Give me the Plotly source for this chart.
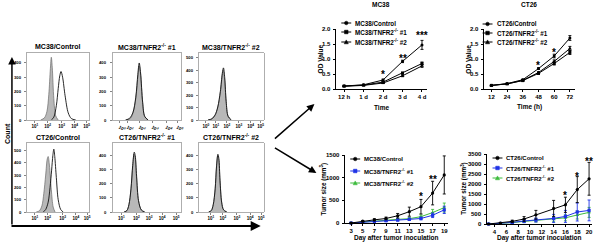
import plotly.graph_objects as go

W, H = 600, 246
FONT = "Liberation Sans"
BLUE = "#1f33e6"
GREEN = "#3dbb3d"
GREY_FILL = "#b8b8b8"

# ---------------- data ----------------
hist_titles = ["MC38/Control", "MC38/TNFR2<sup>-/-</sup> #1", "MC38/TNFR2<sup>-/-</sup> #2",
               "CT26/Control", "CT26/TNFR2<sup>-/-</sup> #1", "CT26/TNFR2<sup>-/-</sup> #2"]
# tick positions in display channel units (0-1000) and their decade exponents
hist_tick_pos = [[127, 333, 556, 762, 952], [101, 217, 391, 580, 783, 942], [108, 262, 431, 615, 800, 954],
                 [127, 333, 570, 780, 960], [130, 348, 536, 725, 928], [185, 369, 585, 790, 960]]
hist_tick_exp = [[1, 2, 3, 4, 5], [0, 1, 2, 3, 4, 5], [0, 1, 2, 3, 4, 5],
                 [1, 2, 3, 4, 5], [1, 2, 3, 4, 5], [1, 2, 3, 4, 5]]
hist_y_ticks = [[0, 100, 200, 300, 400], [0, 100, 200, 300, 400], [0, 100, 200, 300, 400, 500],
                [0, 100, 200, 300, 400, 500], [0, 100, 200, 300, 400], [0, 100, 200, 300, 400]]
hist_y_max = [470, 470, 540, 560, 490, 490]

# isotype (grey filled) and stained (black outline) histograms
iso_x = [
    [220, 280, 320, 350, 375, 390, 405, 430, 460, 500],
    [200, 260, 300, 340, 370, 392, 410, 440, 470, 520],
    [140, 200, 250, 290, 330, 360, 375, 395, 420, 450, 500],
    [150, 200, 240, 270, 300, 325, 340, 360, 390, 420, 450],
    [170, 210, 240, 270, 295, 315, 330, 350, 380, 420, 470],
    [150, 190, 220, 250, 270, 290, 305, 325, 350, 380, 430],
]
iso_y = [
    [0, 15, 60, 180, 360, 440, 370, 150, 30, 0],
    [0, 10, 50, 150, 300, 380, 320, 120, 25, 0],
    [0, 10, 40, 100, 220, 360, 400, 330, 150, 30, 0],
    [0, 10, 50, 150, 300, 430, 450, 380, 180, 40, 0],
    [0, 10, 50, 160, 320, 410, 390, 250, 80, 15, 0],
    [0, 10, 50, 160, 310, 400, 370, 220, 70, 15, 0],
]
samp_x = [
    [390, 430, 470, 500, 525, 545, 570, 610, 660, 710, 780],
    [190, 250, 300, 340, 370, 390, 410, 440, 470, 520],
    [140, 200, 250, 290, 330, 360, 378, 398, 420, 450, 500],
    [260, 300, 340, 370, 395, 415, 430, 445, 470, 500, 540, 580],
    [170, 210, 240, 270, 295, 318, 332, 352, 380, 420, 470],
    [150, 190, 220, 250, 270, 292, 307, 325, 350, 380, 430],
]
samp_y = [
    [0, 20, 100, 220, 310, 340, 300, 170, 50, 10, 0],
    [0, 12, 55, 160, 320, 400, 330, 125, 25, 0],
    [0, 10, 42, 105, 230, 375, 420, 340, 150, 30, 0],
    [0, 20, 80, 200, 340, 460, 510, 450, 280, 100, 20, 0],
    [0, 10, 52, 165, 330, 425, 400, 255, 80, 15, 0],
    [0, 10, 52, 165, 320, 410, 380, 225, 70, 15, 0],
]

# OD growth curves
od_mc38_x = ["12 h", "1 d", "2 d", "3 d", "4 d"]
od_mc38_ctrl = [0.10, 0.14, 0.30, 0.92, 1.47]
od_mc38_ctrl_err = [0.01, 0.01, 0.03, 0.04, 0.15]
od_mc38_ko1 = [0.10, 0.13, 0.23, 0.53, 0.85]
od_mc38_ko1_err = [0.01, 0.01, 0.02, 0.03, 0.05]
od_mc38_ko2 = [0.09, 0.12, 0.20, 0.44, 0.77]
od_mc38_ko2_err = [0.01, 0.01, 0.02, 0.03, 0.05]
od_mc38_star_x = ["2 d", "3 d", "4 d"]
od_mc38_star_y = [0.57, 1.13, 1.87]
od_mc38_star_t = ["*", "**", "***"]

od_ct26_x = [12, 24, 36, 48, 60, 72]
od_ct26_ctrl = [0.12, 0.18, 0.31, 0.68, 1.10, 1.70]
od_ct26_ctrl_err = [0.01, 0.01, 0.02, 0.03, 0.06, 0.08]
od_ct26_ko1 = [0.12, 0.17, 0.28, 0.52, 0.85, 1.22]
od_ct26_ko1_err = [0.01, 0.01, 0.02, 0.03, 0.05, 0.07]
od_ct26_ko2 = [0.12, 0.17, 0.29, 0.55, 0.92, 1.35]
od_ct26_ko2_err = [0.01, 0.01, 0.02, 0.03, 0.05, 0.07]
od_ct26_star_x = [48, 60, 72]
od_ct26_star_y = [0.90, 1.33, 2.03]
od_ct26_star_t = ["*", "*", "**"]
od_y_ticks = [0, 0.5, 1.0, 1.5, 2.0]
od_y_labels = ["0.0", "0.5", "1.0", "1.5", "2.0"]

# tumor growth
tum_mc38_days = [3, 5, 7, 9, 11, 13, 15, 17, 19]
tum_mc38_ctrl = [0, 40, 70, 100, 160, 250, 360, 660, 1060]
tum_mc38_ctrl_err = [5, 15, 25, 30, 50, 100, 160, 260, 420]
tum_mc38_ko1 = [0, 20, 35, 50, 65, 80, 100, 170, 290]
tum_mc38_ko1_err = [3, 8, 10, 15, 20, 25, 30, 50, 80]
tum_mc38_ko2 = [0, 25, 45, 60, 80, 95, 140, 230, 340]
tum_mc38_ko2_err = [3, 10, 12, 15, 25, 30, 40, 70, 100]
tum_mc38_star_x = [15, 17, 19]
tum_mc38_star_y = [640, 1015, 1630]
tum_mc38_star_t = ["*", "**", "***"]
tum_mc38_y_ticks = [0, 500, 1000, 1500]

tum_ct26_days = [3, 5, 7, 9, 11, 14, 16, 18, 20]
tum_ct26_ctrl = [0, 50, 130, 250, 460, 780, 960, 1720, 2260]
tum_ct26_ctrl_err = [5, 20, 60, 120, 220, 400, 380, 650, 820]
tum_ct26_ko1 = [0, 30, 80, 150, 200, 280, 380, 600, 680]
tum_ct26_ko1_err = [5, 15, 40, 80, 100, 200, 300, 450, 520]
tum_ct26_ko2 = [0, 30, 70, 130, 180, 230, 310, 450, 580]
tum_ct26_ko2_err = [5, 15, 30, 60, 80, 120, 150, 200, 250]
tum_ct26_star_x = [16, 18, 20]
tum_ct26_star_y = [1600, 2550, 3300]
tum_ct26_star_t = ["*", "*", "**"]
tum_ct26_x_ticks = [4, 6, 8, 10, 12, 14, 16, 18, 20]
tum_ct26_y_ticks = [0, 500, 1000, 1500, 2000, 2500, 3000, 3500]

mc38_labels = ["MC38/Control", "MC38/TNFR2<sup>-/-</sup> #1", "MC38/TNFR2<sup>-/-</sup> #2"]
ct26_labels = ["CT26/Control", "CT26/TNFR2<sup>-/-</sup> #1", "CT26/TNFR2<sup>-/-</sup> #2"]


# ---------------- helpers ----------------
def PX(p):
    return p / W


def PY(p):
    return 1 - p / H


fig = go.Figure()
annotations = []
shapes = []


def font(size, color="black"):
    return dict(family=FONT, size=size, color=color, weight="bold")


def axis_names(n):
    s = "" if n == 1 else str(n)
    return "xaxis" + s, "yaxis" + s, "x" + s, "y" + s


def set_axes(n, xpx, ypx, xkw, ykw):
    xa, ya, xr, yr = axis_names(n)
    fig.update_layout({
        xa: dict(domain=[PX(xpx[0]), PX(xpx[1])], anchor=yr, ticklabeloverflow="allow",
                 showticklabels=True, **xkw),
        ya: dict(domain=[PY(ypx[1]), PY(ypx[0])], anchor=xr, showticklabels=False, **ykw),
    })
    return xr, yr


def ytick_labels(vals, labels, axis_px, yr, size, gap):
    # y tick labels written next to the axis, positioned through the y axis scale
    for v, lab in zip(vals, labels):
        annotations.append(dict(text=lab, x=PX(axis_px - gap), y=v, xref="paper", yref=yr,
                                xanchor="right", yanchor="middle", showarrow=False, font=font(size)))


def text(t, x, y, size, angle=0, xanchor="center", color="black"):
    annotations.append(dict(text=t, x=PX(x), y=PY(y), xref="paper", yref="paper", showarrow=False,
                            font=font(size, color), textangle=angle, xanchor=xanchor, yanchor="middle"))


def arrow(tipx, tipy, tailx, taily, width=1.5):
    annotations.append(dict(text="", x=PX(tipx), y=PY(tipy), xref="paper", yref="paper",
                            ax=tailx - tipx, ay=taily - tipy, showarrow=True, arrowhead=2,
                            arrowsize=1, arrowwidth=width, arrowcolor="black"))


def legend_key(sym, cx, cy, color, r=1.8):
    shapes.append(dict(type="line", xref="paper", yref="paper", x0=PX(cx - 5), x1=PX(cx + 5),
                       y0=PY(cy), y1=PY(cy), line=dict(color=color, width=1)))
    if sym == "circle":
        shapes.append(dict(type="circle", xref="paper", yref="paper", x0=PX(cx - r), x1=PX(cx + r),
                           y0=PY(cy + r), y1=PY(cy - r), fillcolor=color, line=dict(color=color, width=0.5)))
    elif sym == "square":
        shapes.append(dict(type="rect", xref="paper", yref="paper", x0=PX(cx - r), x1=PX(cx + r),
                           y0=PY(cy + r), y1=PY(cy - r), fillcolor=color, line=dict(color=color, width=0.5)))
    else:
        path = "M {} {} L {} {} L {} {} Z".format(PX(cx - r - 0.3), PY(cy + r), PX(cx + r + 0.3), PY(cy + r),
                                                  PX(cx), PY(cy - r - 0.3))
        shapes.append(dict(type="path", xref="paper", yref="paper", path=path, fillcolor=color,
                           line=dict(color=color, width=0.5)))


def legend_block(labels, cx, tx, ys, colors, syms, size):
    for lab, y, c, s in zip(labels, ys, colors, syms):
        legend_key(s, cx, y, c)
        text(lab, tx, y, size, xanchor="left")


# ---------------- histograms ----------------
hist_boxes = [(27, 90, 53, 120), (113, 182, 53, 120), (200, 265, 53, 120),
              (27, 90, 143, 212), (113, 182, 143, 212), (200, 265, 143, 212)]
for i in range(6):
    x0, x1, y0, y1 = hist_boxes[i]
    frame = dict(showline=True, linecolor="#9a9a9a", linewidth=0.8, mirror=True, showgrid=False,
                 zeroline=False, ticks="outside", ticklen=2, tickwidth=0.6, tickcolor="#333",
                 tickfont=font(4.5))
    xr, yr = set_axes(i + 1, (x0, x1), (y0, y1),
                      dict(range=[0, 1000], tickvals=hist_tick_pos[i],
                           ticktext=["10<sup>%d</sup>" % e for e in hist_tick_exp[i]], **frame),
                      dict(range=[0, hist_y_max[i]], tickvals=hist_y_ticks[i], **frame))
    ytick_labels(hist_y_ticks[i], [str(v) for v in hist_y_ticks[i]], x0, yr, 4.2, 3)
    fig.add_trace(go.Scatter(x=iso_x[i], y=iso_y[i], xaxis=xr, yaxis=yr, mode="lines",
                             line=dict(color="#6a6a6a", width=0.7, shape="spline", smoothing=0.9),
                             fill="tozeroy", fillcolor=GREY_FILL, showlegend=False))
    fig.add_trace(go.Scatter(x=samp_x[i], y=samp_y[i], xaxis=xr, yaxis=yr, mode="lines",
                             line=dict(color="#111", width=0.9, shape="spline", smoothing=0.9),
                             showlegend=False))
    text(hist_titles[i], (x0 + x1) / 2, y0 - 6, 7)

# big Count / fluorescence axes
arrow(12, 57, 12, 226, 1.5)
arrow(262, 226, 11.3, 226, 2)
text("Count", 7, 133, 7, angle=-90)

# pointers to growth graphs
arrow(316, 104, 275, 140, 1.5)
arrow(318, 173, 275, 147, 1.5)

# ---------------- line charts ----------------
prism = dict(showline=True, linecolor="black", linewidth=1, showgrid=False, zeroline=False,
             ticks="outside", ticklen=2, tickwidth=1, tickcolor="black", tickfont=font(6))


def series(x, y, err, xr, yr, color, sym, size=3.5):
    fig.add_trace(go.Scatter(x=x, y=y, xaxis=xr, yaxis=yr, mode="lines+markers",
                             line=dict(color=color, width=1),
                             marker=dict(symbol=sym, size=size, color=color),
                             error_y=dict(type="data", array=err, color=color, thickness=0.9, width=1.5),
                             cliponaxis=False, showlegend=False))


def stars(xs, ys, ts, xr, yr):
    for x, y, t in zip(xs, ys, ts):
        annotations.append(dict(text=t, x=x, y=y, xref=xr, yref=yr, showarrow=False,
                                font=font(10), yanchor="middle", yshift=-3))


# MC38 OD
xr, yr = set_axes(7, (338, 429), (29, 89),
                  dict(type="category", range=[-0.4, 4.25], **prism),
                  dict(range=[0, 2.0], tickvals=od_y_ticks, **prism))
ytick_labels(od_y_ticks, od_y_labels, 338, yr, 6, 3)
series(od_mc38_x, od_mc38_ko2, od_mc38_ko2_err, xr, yr, "black", "triangle-up")
series(od_mc38_x, od_mc38_ko1, od_mc38_ko1_err, xr, yr, "black", "square", 3)
series(od_mc38_x, od_mc38_ctrl, od_mc38_ctrl_err, xr, yr, "black", "circle", 3)
stars(od_mc38_star_x, od_mc38_star_y, od_mc38_star_t, xr, yr)
text("MC38", 383, 5, 6.5)
text("OD Value", 322, 59, 6.5, angle=-90)
text("Time", 383, 107, 6.5)
legend_block(mc38_labels, 348, 355, [23, 32, 42], ["black"] * 3, ["circle", "square", "triangle"], 6.3)

# CT26 OD
xr, yr = set_axes(8, (486, 578), (29, 89),
                  dict(range=[6, 76], tickvals=od_ct26_x, **prism),
                  dict(range=[0, 2.0], tickvals=od_y_ticks, **prism))
ytick_labels(od_y_ticks, od_y_labels, 486, yr, 6, 3)
series(od_ct26_x, od_ct26_ko2, od_ct26_ko2_err, xr, yr, "black", "triangle-up")
series(od_ct26_x, od_ct26_ko1, od_ct26_ko1_err, xr, yr, "black", "square", 3)
series(od_ct26_x, od_ct26_ctrl, od_ct26_ctrl_err, xr, yr, "black", "circle", 3)
stars(od_ct26_star_x, od_ct26_star_y, od_ct26_star_t, xr, yr)
text("CT26", 532, 5, 6.5)
text("OD Value", 470, 59, 6.5, angle=-90)
text("Time (h)", 532, 107, 6.5)
legend_block(ct26_labels, 490, 497, [24, 33, 42], ["black"] * 3, ["circle", "square", "triangle"], 6.3)

# MC38 tumor
xr, yr = set_axes(9, (347, 450), (155, 223),
                  dict(range=[2, 19.6], tickvals=tum_mc38_days, **prism),
                  dict(range=[0, 1500], tickvals=tum_mc38_y_ticks, **prism))
ytick_labels(tum_mc38_y_ticks, [str(v) for v in tum_mc38_y_ticks], 347, yr, 6, 3)
series(tum_mc38_days, tum_mc38_ko2, tum_mc38_ko2_err, xr, yr, GREEN, "triangle-up")
series(tum_mc38_days, tum_mc38_ko1, tum_mc38_ko1_err, xr, yr, BLUE, "square", 3.2)
series(tum_mc38_days, tum_mc38_ctrl, tum_mc38_ctrl_err, xr, yr, "black", "circle", 3.2)
stars(tum_mc38_star_x, tum_mc38_star_y, tum_mc38_star_t, xr, yr)
text("Tumor size (mm<sup>3</sup>)", 325, 189, 6.3, angle=-90)
text("Day after tumor inoculation", 398, 238, 6.5)
legend_block(mc38_labels, 357, 364, [159, 171, 183], ["black", BLUE, GREEN],
             ["circle", "square", "triangle"], 6)

# CT26 tumor
xr, yr = set_axes(10, (489, 595), (154, 224),
                  dict(range=[2.65, 20.5], tickvals=tum_ct26_x_ticks, **prism),
                  dict(range=[0, 3500], tickvals=tum_ct26_y_ticks, **prism))
ytick_labels(tum_ct26_y_ticks, [str(v) for v in tum_ct26_y_ticks], 489, yr, 6, 3)
series(tum_ct26_days, tum_ct26_ko2, tum_ct26_ko2_err, xr, yr, GREEN, "triangle-up")
series(tum_ct26_days, tum_ct26_ko1, tum_ct26_ko1_err, xr, yr, BLUE, "square", 3.2)
series(tum_ct26_days, tum_ct26_ctrl, tum_ct26_ctrl_err, xr, yr, "black", "circle", 3.2)
stars(tum_ct26_star_x, tum_ct26_star_y, tum_ct26_star_t, xr, yr)
text("Tumor size (mm<sup>3</sup>)", 466, 189, 6.3, angle=-90)
text("Day after tumor inoculation", 542, 238, 6.5)
legend_block(ct26_labels, 500, 507, [158, 168, 178], ["black", BLUE, GREEN],
             ["circle", "square", "triangle"], 6)

fig.update_layout(width=W, height=H, autosize=False, margin=dict(l=0, r=0, t=0, b=0),
                  paper_bgcolor="white", plot_bgcolor="white", showlegend=False,
                  font=dict(family=FONT, weight="bold", color="black"),
                  annotations=annotations, shapes=shapes)

fig.write_html("out.html", config={"displayModeBar": False, "staticPlot": True},
               post_script="document.body.style.margin='0px';document.body.style.overflow='hidden';")
